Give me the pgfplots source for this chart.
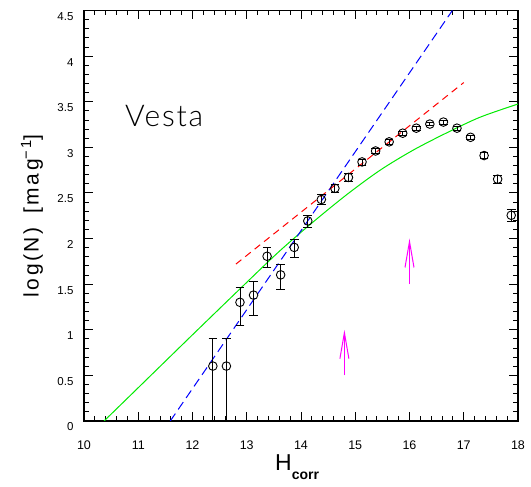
\documentclass[border=0pt]{standalone}
\usepackage{pgfplots}
\pgfplotsset{compat=1.18}
\usepackage{pgfplotstable}
\usepackage{fontspec}
\setmainfont{Liberation Sans}
\newfontfamily\labfont[LetterSpace=12]{Liberation Sans}
\newfontfamily\vestafont[LetterSpace=6]{Lato Light}
\usetikzlibrary{arrows.meta}
\definecolor{vgreen}{RGB}{0,235,0}
\definecolor{vblue}{RGB}{0,0,255}
\definecolor{vred}{RGB}{255,0,0}
\definecolor{vmag}{RGB}{255,0,255}
\pgfplotstableread{
h v ep em
12.375 0.602 0.301 0.602
12.625 0.602 0.301 0.602
12.875 1.301 0.160 0.257
13.125 1.380 0.149 0.228
13.375 1.806 0.097 0.125
13.625 1.602 0.119 0.165
13.875 1.903 0.088 0.110
14.125 2.193 0.065 0.076
14.375 2.428 0.050 0.057
14.625 2.551 0.044 0.048
14.875 2.670 0.039 0.042
15.125 2.840 0.032 0.034
15.375 2.960 0.028 0.030
15.625 3.060 0.025 0.026
15.875 3.155 0.022 0.024
16.125 3.210 0.021 0.022
16.375 3.255 0.020 0.020
16.625 3.277 0.019 0.021
16.875 3.210 0.021 0.022
17.125 3.110 0.023 0.025
17.375 2.910 0.029 0.032
17.625 2.651 0.039 0.043
17.875 2.255 0.061 0.068
}\vestadata
\begin{document}
\begin{tikzpicture}[x=1pt,y=1pt]
\path[use as bounding box] (0,0) rectangle (531,487);
\begin{axis}[
  at={(84pt,66pt)}, anchor=south west,
  scale only axis, width=434pt, height=410.5pt,
  xmin=10, xmax=18, ymin=0, ymax=4.5,
  xtick={10,11,...,18}, ytick={0,0.5,...,4.5},
  minor x tick num=4, minor y tick num=4,
  tick align=inside, xtick pos=both, ytick pos=both,
  major tick length=9pt, minor tick length=5pt,
  axis line style={line width=1.2pt},
  every tick/.style={black, line width=0.9pt},
  /pgf/number format/assume math mode=true,
  x tick label style={font=\fontsize{12.5}{12.5}\selectfont, yshift=-16pt},
  y tick label style={font=\fontsize{11.5}{11.5}\selectfont, xshift=-7pt, yshift=-6pt},
  clip mode=individual,
]
\addplot[vgreen, line width=1pt, smooth] coordinates {
(10.37,0) (11,0.365) (12,0.945) (13,1.52) (13.6,1.86) (14.2,2.17) (14.84,2.48) (15.46,2.75) (16.07,2.97) (16.69,3.16) (17.3,3.33) (18.0,3.475)};
\addplot[vblue, line width=1pt, dash pattern=on 9pt off 5pt] coordinates {(11.59,0) (16.79,4.5)};
\addplot[vred, line width=1pt, dash pattern=on 7pt off 5pt] coordinates {(12.8,1.72) (17.0,3.71)};
\addplot[black, only marks, mark=o, mark size=4.3pt, mark options={line width=0.9pt},
  error bars/.cd, y dir=both, y explicit,
  error bar style={line width=0.9pt, black},
  error mark options={rotate=90, mark size=4.3pt, line width=0.9pt, black}]
  table[x=h, y=v, y error plus=ep, y error minus=em] {\vestadata};
\addplot[vmag, line width=1pt, -{Straight Barb[length=26pt,width=9pt,line width=1pt]}] coordinates {(14.8,0.5) (14.8,1.0)};
\addplot[vmag, line width=1pt, -{Straight Barb[length=26pt,width=9pt,line width=1pt]}] coordinates {(16.0,1.5) (16.0,2.0)};
\node[anchor=base west, inner sep=0, font=\vestafont\fontsize{30}{30}\selectfont] at (axis cs:10.756,3.224) {Vesta};
\node[rotate=90, anchor=center, inner sep=0, font=\labfont\fontsize{21}{21}\selectfont] at (axis description cs:-0.1198,0.5) {log(N)\hspace{14pt}[mag\textsuperscript{−1}]};
\node[anchor=base, inner sep=0] at (axis description cs:0.491,-0.1194) {\fontsize{23}{23}\selectfont H\raisebox{-9pt}{\fontsize{14}{14}\selectfont\bfseries corr}};
\end{axis}
\end{tikzpicture}
\end{document}
